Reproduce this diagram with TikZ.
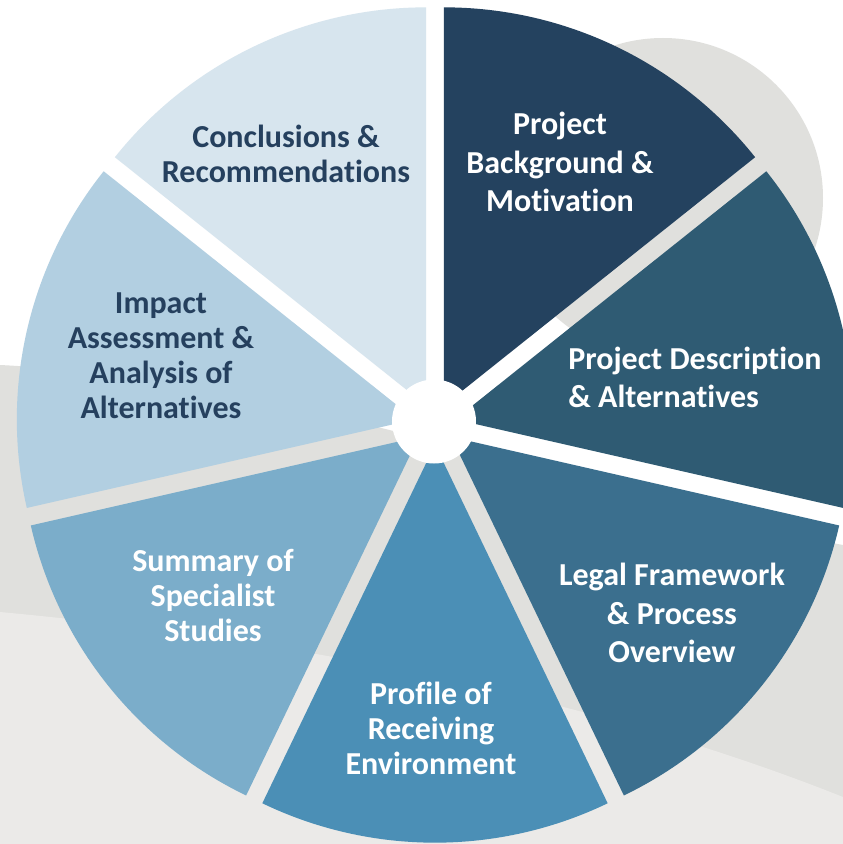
\documentclass[tikz,border=0pt]{standalone}
\usepackage{fontspec}
\setmainfont{Carlito}[Ligatures=NoCommon]
\definecolor{slA}{HTML}{24425F}
\definecolor{slB}{HTML}{2F5B73}
\definecolor{slC}{HTML}{3B6F8E}
\definecolor{slD}{HTML}{4B8FB6}
\definecolor{slE}{HTML}{7BADCA}
\definecolor{slF}{HTML}{B2CFE1}
\definecolor{slG}{HTML}{D7E5EE}
\definecolor{darktxt}{HTML}{25405E}
\definecolor{bandgrey}{HTML}{E0E0DD}
\definecolor{lowgrey}{HTML}{EBEAE8}
\begin{document}
\begin{tikzpicture}[x=1pt, y=1pt,
  lbl/.style={font=\bfseries\fontsize{32}{35}\selectfont, align=center, text=white},
  lblwide/.style={lbl, font=\bfseries\fontsize{32}{38.5}\selectfont},
  lbldark/.style={lbl, text=darktxt}]
  \clip (-435,-420) rectangle (408,424);
  \fill[white] (-435,-420) rectangle (408,424);
  \fill[bandgrey] (228,226) circle (160);
  \fill[bandgrey] (-435,59) .. controls (-135,44) and (165,-76) .. (408,-121) -- (408,-420) -- (-435,-420) -- cycle;
  \fill[lowgrey] (-435,-188) .. controls (-135,-216) and (165,-276) .. (408,-373) -- (408,-420) -- (-435,-420) -- cycle;
  \foreach \col [count=\i from 0] in {slA,slB,slC,slD,slE,slF,slG} {
    \pgfmathsetmacro\a{90-360/7*\i}
    \pgfmathsetmacro\m{\a-180/7}
    \fill[\col] (\m:20.7) -- ++(\a:398) arc[start angle=\a, delta angle=-360/7, radius=398] -- cycle;
  }
  \fill[white] (-1,2.5) circle (42);
  \node[lblwide] (motiv) at (125,262) {Project\\Background \&\\Motivation};
  \node[lblwide, align=left] (descr) at (260,46.5) {Project Description\\\& Alternatives};
  \node[lblwide] (legal) at (237,-189) {Legal Framework\\\& Process\\Overview};
  \node[lbl] (profile) at (-4,-304) {Profile of\\Receiving\\Environment};
  \node[lbl] (summary) at (-222,-171) {Summary of\\Specialist\\Studies};
  \node[lbldark] (impact) at (-274,68.5) {Impact\\Assessment \&\\Analysis of\\Alternatives};
  \node[lbldark] (concl) at (-149,270.5) {Conclusions \&\\Recommendations};
\end{tikzpicture}
\end{document}
